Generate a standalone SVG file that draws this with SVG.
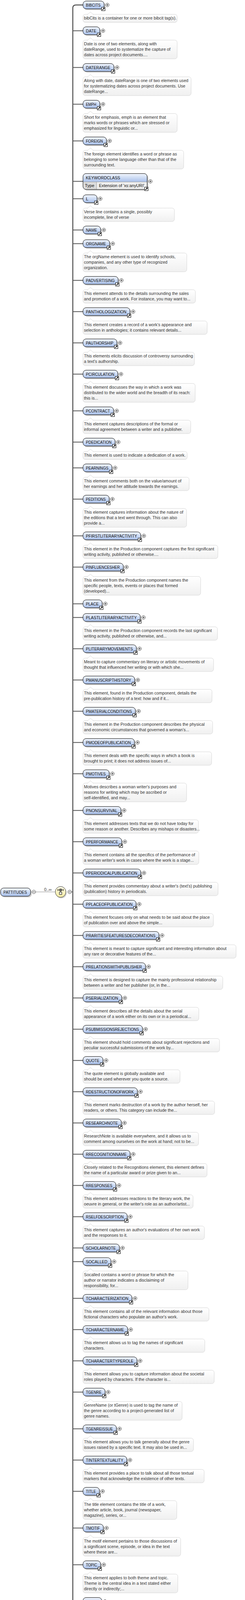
<svg xmlns="http://www.w3.org/2000/svg" xmlns:xlink="http://www.w3.org/1999/xlink" width="626" height="4617" viewBox="0 0 626 4617">
<style>
.nb{fill:url(#gn);stroke:#000;stroke-width:1}
.ns{fill:#a3a3a3;opacity:.55}
.nt{font-family:"Liberation Sans",Arial,sans-serif;font-size:11.5px;fill:#111}
.ab{fill:url(#ga);stroke:#d6d6d6;stroke-width:1}
.at{font-family:"Liberation Sans",Arial,sans-serif;font-size:10.7px;fill:#333}
.br{stroke:#555;stroke-width:2;fill:none}
</style>
<defs>
<linearGradient id="gn" x1="0" y1="0" x2="0" y2="1"><stop offset="0" stop-color="#f2f6fd"/><stop offset="1" stop-color="#a8c0eb"/></linearGradient>
<linearGradient id="ga" x1="0" y1="0" x2="0" y2="1"><stop offset="0" stop-color="#ffffff"/><stop offset="1" stop-color="#f0f0f0"/></linearGradient>
<linearGradient id="gy" x1="0" y1="0" x2="0" y2="1"><stop offset="0" stop-color="#fffde8"/><stop offset="1" stop-color="#f1e9a2"/></linearGradient>
<g id="plus"><circle r="4.5" fill="#fff" stroke="#333" stroke-width="1"/><path d="M-2.5,0H2.5M0,-2.5V2.5" stroke="#000" stroke-width="1"/></g>
<g id="minus"><circle r="4.5" fill="#fff" stroke="#333" stroke-width="1"/><path d="M-2.5,0H2.5" stroke="#000" stroke-width="1"/></g>
<g id="ic"><rect x="0.5" y="0.5" width="9" height="9" fill="#fff" stroke="#000" stroke-width="1"/><path d="M2.5,7.5L6,4" stroke="#000" stroke-width="1.7"/><path d="M4,2H8V6Z" fill="#000"/></g>
<path id="notch" d="M223,1L231,-6L239,1" fill="#fff" stroke="#d6d6d6" stroke-width="1"/>
</defs>
<rect width="626" height="4617" fill="#fff"/>

<g id="connectors">
<path class="br" style="stroke-width:2.6" d="M212,12.7H194Q186,12.7 186,20.7V4547.7Q186,4555.7 194,4555.7H212"/>
<path class="br" d="M186,78.7H212M186,172.7H212M186,266.7H212M186,360.7H212M186,464.3H212M186,508.7H212M186,588.7H212M186,623.7H212M186,717.7H212M186,797.7H212M186,877.7H212M186,957.7H212M186,1051.7H212M186,1131.7H212M186,1197.7H212M186,1277.7H212M186,1371.7H212M186,1451.7H212M186,1545.7H212M186,1580.7H212M186,1660.7H212M186,1740.7H212M186,1820.7H212M186,1900.7H212M186,1980.7H212M186,2074.7H212M186,2154.7H212M186,2234.7H212M186,2314.7H212M186,2394.7H212M186,2474.7H212M186,2554.7H212M186,2634.7H212M186,2714.7H212M186,2794.7H212M186,2874.7H212M186,2954.7H212M186,3034.7H212M186,3114.7H212M186,3194.7H212M186,3229.7H212M186,3323.7H212M186,3403.7H212M186,3483.7H212M186,3563.7H212M186,3657.7H212M186,3737.7H212M186,3817.7H212M186,3911.7H212M186,4005.7H212M186,4099.7H212M186,4193.7H212M186,4273.7H212M186,4367.7H212M186,4461.7H212"/>
<path d="M91,2283.3H141" stroke="#8a8a8a" stroke-width="1"/>
<path d="M182.5,2283.3H186" stroke="#555" stroke-width="1.5"/>
<text class="at" x="122.5" y="2280.5" text-anchor="middle">0..∞</text>
</g>

<g id="node-pattitudes">
<rect class="ns" x="4.5" y="2276.3" width="76.5" height="21" rx="8"/>
<rect class="nb" x="1.5" y="2273.3" width="76.5" height="21" rx="8"/>
<text class="nt" x="8.8" y="2287.5" textLength="60" lengthAdjust="spacingAndGlyphs">PATTITUDES</text>
<use xlink:href="#minus" x="86.4" y="2283.3"/>
</g>

<g id="compositor-sequence" transform="translate(154.8,2283.3)">
<ellipse cx="2" cy="2.5" rx="13.5" ry="14" fill="#aaa" opacity=".55"/>
<ellipse rx="13.5" ry="14" fill="url(#gy)" stroke="#333" stroke-width="1"/>
<path d="M-7,-7.5V-2.5M-7,-5H7M7,-7.5V-2.5M0,-2.5V0.5" stroke="#000" stroke-width="1" fill="none"/>
<rect x="-2.5" y="-7.5" width="5" height="5" fill="#777" stroke="#000" stroke-width="0.8"/>
<rect x="-3" y="0.5" width="6" height="6" fill="#fff" stroke="#000" stroke-width="1"/>
<use xlink:href="#minus" x="23.2" y="0"/>
</g>

<g id="node-bibcits" transform="translate(0,12.7)">
<rect class="ns" x="215" y="-7" width="54" height="20" rx="8"/><rect class="nb" x="212" y="-10" width="54" height="20" rx="8"/>
<text class="nt" x="219.5" y="4" textLength="37.5" lengthAdjust="spacingAndGlyphs">BIBCITS</text>
<use xlink:href="#ic" x="259" y="5.3"/><use xlink:href="#plus" x="274.3" y="0"/>
<rect class="ab" x="212" y="24" width="240.7" height="20.7" rx="6"/><use xlink:href="#notch" y="24"/>
<text class="at" x="214.5" y="37.6">bibCits is a container for one or more bibcit tag(s).</text>
</g>

<g id="node-date" transform="translate(0,78.7)">
<rect class="ns" x="215" y="-7" width="43" height="20" rx="8"/><rect class="nb" x="212" y="-10" width="43" height="20" rx="8"/>
<text class="nt" x="219.5" y="4" textLength="26.5" lengthAdjust="spacingAndGlyphs">DATE</text>
<use xlink:href="#ic" x="248" y="5.3"/><use xlink:href="#plus" x="263.3" y="0"/>
<rect class="ab" x="212" y="24" width="240.7" height="48" rx="6"/><use xlink:href="#notch" y="24"/>
<text class="at" x="214.5" y="37.6"><tspan x="214.5">Date is one of two elements, along with</tspan><tspan x="214.5" dy="14">dateRange, used to systematize the capture of</tspan><tspan x="214.5" dy="14">dates across project documents....</tspan></text>
</g>

<g id="node-daterange" transform="translate(0,172.7)">
<rect class="ns" x="215" y="-7" width="79" height="20" rx="8"/><rect class="nb" x="212" y="-10" width="79" height="20" rx="8"/>
<text class="nt" x="219.5" y="4" textLength="62.5" lengthAdjust="spacingAndGlyphs">DATERANGE</text>
<use xlink:href="#ic" x="284" y="5.3"/><use xlink:href="#plus" x="299.3" y="0"/>
<rect class="ab" x="212" y="24" width="276.3" height="48" rx="6"/><use xlink:href="#notch" y="24"/>
<text class="at" x="214.5" y="37.6"><tspan x="214.5">Along with date, dateRange is one of two elements used</tspan><tspan x="214.5" dy="14">for systematizing dates across project documents. Use</tspan><tspan x="214.5" dy="14">dateRange...</tspan></text>
</g>

<g id="node-emph" transform="translate(0,266.7)">
<rect class="ns" x="215" y="-7" width="43" height="20" rx="8"/><rect class="nb" x="212" y="-10" width="43" height="20" rx="8"/>
<text class="nt" x="219.5" y="4" textLength="26.5" lengthAdjust="spacingAndGlyphs">EMPH</text>
<use xlink:href="#ic" x="248" y="5.3"/><use xlink:href="#plus" x="263.3" y="0"/>
<rect class="ab" x="212" y="24" width="240.7" height="48" rx="6"/><use xlink:href="#notch" y="24"/>
<text class="at" x="214.5" y="37.6"><tspan x="214.5">Short for emphasis, emph is an element that</tspan><tspan x="214.5" dy="14">marks words or phrases which are stressed or</tspan><tspan x="214.5" dy="14">emphasized for linguistic or...</tspan></text>
</g>

<g id="node-foreign" transform="translate(0,360.7)">
<rect class="ns" x="215" y="-7" width="60" height="20" rx="8"/><rect class="nb" x="212" y="-10" width="60" height="20" rx="8"/>
<text class="nt" x="219.5" y="4" textLength="43.5" lengthAdjust="spacingAndGlyphs">FOREIGN</text>
<use xlink:href="#ic" x="265" y="5.3"/><use xlink:href="#plus" x="280.3" y="0"/>
<rect class="ab" x="212" y="24" width="257.3" height="48" rx="6"/><use xlink:href="#notch" y="24"/>
<text class="at" x="214.5" y="37.6"><tspan x="214.5">The foreign element identifies a word or phrase as</tspan><tspan x="214.5" dy="14">belonging to some language other than that of the</tspan><tspan x="214.5" dy="14">surrounding text.</tspan></text>
</g>

<g id="node-keywordclass" transform="translate(0,464.3)">
<rect class="ns" x="215" y="-17" width="164" height="40.7" rx="8"/>
<rect x="212" y="-20" width="164" height="40.7" rx="8" fill="#efefef"/>
<path d="M212,-12a8,8 0 0 1 8,-8H368a8,8 0 0 1 8,8V1.5H212Z" fill="url(#gn)"/>
<path d="M212,1.5H246.7V20.7H220a8,8 0 0 1 -8,-8Z" fill="#dcdcdc"/>
<path d="M212,1.5H376M246.7,1.5V20.7" stroke="#9a9a9a" stroke-width="1"/>
<rect x="212" y="-20" width="164" height="40.7" rx="8" fill="none" stroke="#000" stroke-width="1"/>
<text class="nt" x="219.3" y="-5.3" textLength="87.7" lengthAdjust="spacingAndGlyphs">KEYWORDCLASS</text>
<text class="nt" x="216.7" y="14.7" textLength="24.3" lengthAdjust="spacingAndGlyphs">Type</text>
<text class="nt" x="252.7" y="14.7" textLength="116" lengthAdjust="spacingAndGlyphs">Extension of 'xs:anyURI'</text>
<use xlink:href="#ic" x="369" y="14.3"/><use xlink:href="#plus" x="384.3" y="0"/>
</g>

<g id="node-l" transform="translate(0,508.7)">
<rect class="ns" x="215" y="-7" width="36" height="20" rx="8"/><rect class="nb" x="212" y="-10" width="36" height="20" rx="8"/>
<text class="nt" x="219.5" y="4">L</text>
<use xlink:href="#ic" x="241" y="5.3"/><use xlink:href="#plus" x="256.3" y="0"/>
<rect class="ab" x="212" y="24" width="233.7" height="34.3" rx="6"/><use xlink:href="#notch" y="24"/>
<text class="at" x="214.5" y="37.6"><tspan x="214.5">Verse line contains a single, possibly</tspan><tspan x="214.5" dy="14">incomplete, line of verse</tspan></text>
</g>

<g id="node-name" transform="translate(0,588.7)">
<rect class="ns" x="215" y="-7" width="45" height="20" rx="8"/><rect class="nb" x="212" y="-10" width="45" height="20" rx="8"/>
<text class="nt" x="219.5" y="4" textLength="28.5" lengthAdjust="spacingAndGlyphs">NAME</text>
<use xlink:href="#ic" x="250" y="5.3"/><use xlink:href="#plus" x="265.3" y="0"/>
</g>

<g id="node-orgname" transform="translate(0,623.7)">
<rect class="ns" x="215" y="-7" width="68" height="20" rx="8"/><rect class="nb" x="212" y="-10" width="68" height="20" rx="8"/>
<text class="nt" x="219.5" y="4" textLength="51.5" lengthAdjust="spacingAndGlyphs">ORGNAME</text>
<use xlink:href="#ic" x="273" y="5.3"/><use xlink:href="#plus" x="288.3" y="0"/>
<rect class="ab" x="212" y="24" width="265.3" height="48" rx="6"/><use xlink:href="#notch" y="24"/>
<text class="at" x="214.5" y="37.6"><tspan x="214.5">The orgName element is used to identify schools,</tspan><tspan x="214.5" dy="14">companies, and any other type of recognized</tspan><tspan x="214.5" dy="14">organization.</tspan></text>
</g>

<g id="node-padvertising" transform="translate(0,717.7)">
<rect class="ns" x="215" y="-7" width="90" height="20" rx="8"/><rect class="nb" x="212" y="-10" width="90" height="20" rx="8"/>
<text class="nt" x="219.5" y="4" textLength="73.5" lengthAdjust="spacingAndGlyphs">PADVERTISING</text>
<use xlink:href="#ic" x="295" y="5.3"/><use xlink:href="#plus" x="310.3" y="0"/>
<rect class="ab" x="212" y="24" width="287.3" height="34.3" rx="6"/><use xlink:href="#notch" y="24"/>
<text class="at" x="214.5" y="37.6"><tspan x="214.5">This element attends to the details surrounding the sales</tspan><tspan x="214.5" dy="14">and promotion of a work. For instance, you may want to...</tspan></text>
</g>

<g id="node-panthologization" transform="translate(0,797.7)">
<rect class="ns" x="215" y="-7" width="120" height="20" rx="8"/><rect class="nb" x="212" y="-10" width="120" height="20" rx="8"/>
<text class="nt" x="219.5" y="4" textLength="103.5" lengthAdjust="spacingAndGlyphs">PANTHOLOGIZATION</text>
<use xlink:href="#ic" x="325" y="5.3"/><use xlink:href="#plus" x="340.3" y="0"/>
<rect class="ab" x="212" y="24" width="317.3" height="34.3" rx="6"/><use xlink:href="#notch" y="24"/>
<text class="at" x="214.5" y="37.6"><tspan x="214.5">This element creates a record of a work's appearance and</tspan><tspan x="214.5" dy="14">selection in anthologies; it contains relevant details...</tspan></text>
</g>

<g id="node-pauthorship" transform="translate(0,877.7)">
<rect class="ns" x="215" y="-7" width="86.7" height="20" rx="8"/><rect class="nb" x="212" y="-10" width="86.7" height="20" rx="8"/>
<text class="nt" x="219.5" y="4" textLength="70.2" lengthAdjust="spacingAndGlyphs">PAUTHORSHIP</text>
<use xlink:href="#ic" x="291.7" y="5.3"/><use xlink:href="#plus" x="307" y="0"/>
<rect class="ab" x="212" y="24" width="284.7" height="34.3" rx="6"/><use xlink:href="#notch" y="24"/>
<text class="at" x="214.5" y="37.6"><tspan x="214.5">This elements elicits discussion of controversy surrounding</tspan><tspan x="214.5" dy="14">a text's authorship.</tspan></text>
</g>

<g id="node-pcirculation" transform="translate(0,957.7)">
<rect class="ns" x="215" y="-7" width="89" height="20" rx="8"/><rect class="nb" x="212" y="-10" width="89" height="20" rx="8"/>
<text class="nt" x="219.5" y="4" textLength="72.5" lengthAdjust="spacingAndGlyphs">PCIRCULATION</text>
<use xlink:href="#ic" x="294" y="5.3"/><use xlink:href="#plus" x="309.3" y="0"/>
<rect class="ab" x="212" y="24" width="286.7" height="48" rx="6"/><use xlink:href="#notch" y="24"/>
<text class="at" x="214.5" y="37.6"><tspan x="214.5">This element discusses the way in which a work was</tspan><tspan x="214.5" dy="14">distributed to the wider world and the breadth of its reach:</tspan><tspan x="214.5" dy="14">this is...</tspan></text>
</g>

<g id="node-pcontract" transform="translate(0,1051.7)">
<rect class="ns" x="215" y="-7" width="78" height="20" rx="8"/><rect class="nb" x="212" y="-10" width="78" height="20" rx="8"/>
<text class="nt" x="219.5" y="4" textLength="61.5" lengthAdjust="spacingAndGlyphs">PCONTRACT</text>
<use xlink:href="#ic" x="283" y="5.3"/><use xlink:href="#plus" x="298.3" y="0"/>
<rect class="ab" x="212" y="24" width="275.3" height="34.3" rx="6"/><use xlink:href="#notch" y="24"/>
<text class="at" x="214.5" y="37.6"><tspan x="214.5">This element captures descriptions of the formal or</tspan><tspan x="214.5" dy="14">informal agreement between a writer and a publisher.</tspan></text>
</g>

<g id="node-pdedication" transform="translate(0,1131.7)">
<rect class="ns" x="215" y="-7" width="82" height="20" rx="8"/><rect class="nb" x="212" y="-10" width="82" height="20" rx="8"/>
<text class="nt" x="219.5" y="4" textLength="65.5" lengthAdjust="spacingAndGlyphs">PDEDICATION</text>
<use xlink:href="#ic" x="287" y="5.3"/><use xlink:href="#plus" x="302.3" y="0"/>
<rect class="ab" x="212" y="24" width="266.3" height="20.7" rx="6"/><use xlink:href="#notch" y="24"/>
<text class="at" x="214.5" y="37.6">This element is used to indicate a dedication of a work.</text>
</g>

<g id="node-pearnings" transform="translate(0,1197.7)">
<rect class="ns" x="215" y="-7" width="74" height="20" rx="8"/><rect class="nb" x="212" y="-10" width="74" height="20" rx="8"/>
<text class="nt" x="219.5" y="4" textLength="57.5" lengthAdjust="spacingAndGlyphs">PEARNINGS</text>
<use xlink:href="#ic" x="279" y="5.3"/><use xlink:href="#plus" x="294.3" y="0"/>
<rect class="ab" x="212" y="24" width="271.3" height="34.3" rx="6"/><use xlink:href="#notch" y="24"/>
<text class="at" x="214.5" y="37.6"><tspan x="214.5">This element comments both on the value/amount of</tspan><tspan x="214.5" dy="14">her earnings and her attitude towards the earnings.</tspan></text>
</g>

<g id="node-peditions" transform="translate(0,1277.7)">
<rect class="ns" x="215" y="-7" width="67" height="20" rx="8"/><rect class="nb" x="212" y="-10" width="67" height="20" rx="8"/>
<text class="nt" x="219.5" y="4" textLength="50.5" lengthAdjust="spacingAndGlyphs">PEDITIONS</text>
<use xlink:href="#ic" x="272" y="5.3"/><use xlink:href="#plus" x="287.3" y="0"/>
<rect class="ab" x="212" y="24" width="264.7" height="48" rx="6"/><use xlink:href="#notch" y="24"/>
<text class="at" x="214.5" y="37.6"><tspan x="214.5">This element captures information about the nature of</tspan><tspan x="214.5" dy="14">the editions that a text went through. This can also</tspan><tspan x="214.5" dy="14">provide a...</tspan></text>
</g>

<g id="node-pfirstliteraryactivity" transform="translate(0,1371.7)">
<rect class="ns" x="215" y="-7" width="147.4" height="20" rx="8"/><rect class="nb" x="212" y="-10" width="147.4" height="20" rx="8"/>
<text class="nt" x="219.5" y="4" textLength="130.9" lengthAdjust="spacingAndGlyphs">PFIRSTLITERARYACTIVITY</text>
<use xlink:href="#ic" x="352.4" y="5.3"/><use xlink:href="#plus" x="367.7" y="0"/>
<rect class="ab" x="212" y="24" width="344.7" height="34.3" rx="6"/><use xlink:href="#notch" y="24"/>
<text class="at" x="214.5" y="37.6"><tspan x="214.5">This element in the Production component captures the first significant</tspan><tspan x="214.5" dy="14">writing activity, published or otherwise....</tspan></text>
</g>

<g id="node-pinfluencesher" transform="translate(0,1451.7)">
<rect class="ns" x="215" y="-7" width="103" height="20" rx="8"/><rect class="nb" x="212" y="-10" width="103" height="20" rx="8"/>
<text class="nt" x="219.5" y="4" textLength="86.5" lengthAdjust="spacingAndGlyphs">PINFLUENCESHER</text>
<use xlink:href="#ic" x="308" y="5.3"/><use xlink:href="#plus" x="323.3" y="0"/>
<rect class="ab" x="212" y="24" width="300.7" height="48" rx="6"/><use xlink:href="#notch" y="24"/>
<text class="at" x="214.5" y="37.6"><tspan x="214.5">This element from the Production component names the</tspan><tspan x="214.5" dy="14">specific people, texts, events or places that formed</tspan><tspan x="214.5" dy="14">(developed)...</tspan></text>
</g>

<g id="node-place" transform="translate(0,1545.7)">
<rect class="ns" x="215" y="-7" width="49" height="20" rx="8"/><rect class="nb" x="212" y="-10" width="49" height="20" rx="8"/>
<text class="nt" x="219.5" y="4" textLength="32.5" lengthAdjust="spacingAndGlyphs">PLACE</text>
<use xlink:href="#ic" x="254" y="5.3"/><use xlink:href="#plus" x="269.3" y="0"/>
</g>

<g id="node-plastliteraryactivity" transform="translate(0,1580.7)">
<rect class="ns" x="215" y="-7" width="146.4" height="20" rx="8"/><rect class="nb" x="212" y="-10" width="146.4" height="20" rx="8"/>
<text class="nt" x="219.5" y="4" textLength="129.9" lengthAdjust="spacingAndGlyphs">PLASTLITERARYACTIVITY</text>
<use xlink:href="#ic" x="351.4" y="5.3"/><use xlink:href="#plus" x="366.7" y="0"/>
<rect class="ab" x="212" y="24" width="343.7" height="34.3" rx="6"/><use xlink:href="#notch" y="24"/>
<text class="at" x="214.5" y="37.6"><tspan x="214.5">This element in the Production component records the last significant</tspan><tspan x="214.5" dy="14">writing activity, published or otherwise, and...</tspan></text>
</g>

<g id="node-pliterarymovements" transform="translate(0,1660.7)">
<rect class="ns" x="215" y="-7" width="136.4" height="20" rx="8"/><rect class="nb" x="212" y="-10" width="136.4" height="20" rx="8"/>
<text class="nt" x="219.5" y="4" textLength="119.9" lengthAdjust="spacingAndGlyphs">PLITERARYMOVEMENTS</text>
<use xlink:href="#ic" x="341.4" y="5.3"/><use xlink:href="#plus" x="356.7" y="0"/>
<rect class="ab" x="212" y="24" width="333.7" height="34.3" rx="6"/><use xlink:href="#notch" y="24"/>
<text class="at" x="214.5" y="37.6"><tspan x="214.5">Meant to capture commentary on literary or artistic movements of</tspan><tspan x="214.5" dy="14">thought that influenced her writing or with which she...</tspan></text>
</g>

<g id="node-pmanuscripthistory" transform="translate(0,1740.7)">
<rect class="ns" x="215" y="-7" width="132" height="20" rx="8"/><rect class="nb" x="212" y="-10" width="132" height="20" rx="8"/>
<text class="nt" x="219.5" y="4" textLength="115.5" lengthAdjust="spacingAndGlyphs">PMANUSCRIPTHISTORY</text>
<use xlink:href="#ic" x="337" y="5.3"/><use xlink:href="#plus" x="352.3" y="0"/>
<rect class="ab" x="212" y="24" width="329.7" height="34.3" rx="6"/><use xlink:href="#notch" y="24"/>
<text class="at" x="214.5" y="37.6"><tspan x="214.5">This element, found in the Production component, details the</tspan><tspan x="214.5" dy="14">pre-publication history of a text: how and if it...</tspan></text>
</g>

<g id="node-pmaterialconditions" transform="translate(0,1820.7)">
<rect class="ns" x="215" y="-7" width="134" height="20" rx="8"/><rect class="nb" x="212" y="-10" width="134" height="20" rx="8"/>
<text class="nt" x="219.5" y="4" textLength="117.5" lengthAdjust="spacingAndGlyphs">PMATERIALCONDITIONS</text>
<use xlink:href="#ic" x="339" y="5.3"/><use xlink:href="#plus" x="354.3" y="0"/>
<rect class="ab" x="212" y="24" width="331.3" height="34.3" rx="6"/><use xlink:href="#notch" y="24"/>
<text class="at" x="214.5" y="37.6"><tspan x="214.5">This element in the Production component describes the physical</tspan><tspan x="214.5" dy="14">and economic circumstances that governed a woman's...</tspan></text>
</g>

<g id="node-pmodeofpublication" transform="translate(0,1900.7)">
<rect class="ns" x="215" y="-7" width="131.4" height="20" rx="8"/><rect class="nb" x="212" y="-10" width="131.4" height="20" rx="8"/>
<text class="nt" x="219.5" y="4" textLength="114.9" lengthAdjust="spacingAndGlyphs">PMODEOFPUBLICATION</text>
<use xlink:href="#ic" x="336.4" y="5.3"/><use xlink:href="#plus" x="351.7" y="0"/>
<rect class="ab" x="212" y="24" width="328.7" height="34.3" rx="6"/><use xlink:href="#notch" y="24"/>
<text class="at" x="214.5" y="37.6"><tspan x="214.5">This element deals with the specific ways in which a book is</tspan><tspan x="214.5" dy="14">brought to print; it does not address issues of...</tspan></text>
</g>

<g id="node-pmotives" transform="translate(0,1980.7)">
<rect class="ns" x="215" y="-7" width="67" height="20" rx="8"/><rect class="nb" x="212" y="-10" width="67" height="20" rx="8"/>
<text class="nt" x="219.5" y="4" textLength="50.5" lengthAdjust="spacingAndGlyphs">PMOTIVES</text>
<use xlink:href="#ic" x="272" y="5.3"/><use xlink:href="#plus" x="287.3" y="0"/>
<rect class="ab" x="212" y="24" width="264.7" height="48" rx="6"/><use xlink:href="#notch" y="24"/>
<text class="at" x="214.5" y="37.6"><tspan x="214.5">Motives describes a woman writer's purposes and</tspan><tspan x="214.5" dy="14">reasons for writing which may be ascribed or</tspan><tspan x="214.5" dy="14">self-identified, and may...</tspan></text>
</g>

<g id="node-pnonsurvival" transform="translate(0,2074.7)">
<rect class="ns" x="215" y="-7" width="97" height="20" rx="8"/><rect class="nb" x="212" y="-10" width="97" height="20" rx="8"/>
<text class="nt" x="219.5" y="4" textLength="80.5" lengthAdjust="spacingAndGlyphs">PNONSURVIVAL</text>
<use xlink:href="#ic" x="302" y="5.3"/><use xlink:href="#plus" x="317.3" y="0"/>
<rect class="ab" x="212" y="24" width="295.2" height="34.3" rx="6"/><use xlink:href="#notch" y="24"/>
<text class="at" x="214.5" y="37.6"><tspan x="214.5">This element addresses texts that we do not have today for</tspan><tspan x="214.5" dy="14">some reason or another. Describes any mishaps or disasters...</tspan></text>
</g>

<g id="node-pperformance" transform="translate(0,2154.7)">
<rect class="ns" x="215" y="-7" width="98.9" height="20" rx="8"/><rect class="nb" x="212" y="-10" width="98.9" height="20" rx="8"/>
<text class="nt" x="219.5" y="4" textLength="82.4" lengthAdjust="spacingAndGlyphs">PPERFORMANCE</text>
<use xlink:href="#ic" x="303.9" y="5.3"/><use xlink:href="#plus" x="319.2" y="0"/>
<rect class="ab" x="212" y="24" width="296" height="34.3" rx="6"/><use xlink:href="#notch" y="24"/>
<text class="at" x="214.5" y="37.6"><tspan x="214.5">This element contains all the specifics of the performance of</tspan><tspan x="214.5" dy="14">a woman writer's work in cases where the work is a stage...</tspan></text>
</g>

<g id="node-pperiodicalpublication" transform="translate(0,2234.7)">
<rect class="ns" x="215" y="-7" width="147.7" height="20" rx="8"/><rect class="nb" x="212" y="-10" width="147.7" height="20" rx="8"/>
<text class="nt" x="219.5" y="4" textLength="131.2" lengthAdjust="spacingAndGlyphs">PPERIODICALPUBLICATION</text>
<use xlink:href="#ic" x="352.7" y="5.3"/><use xlink:href="#plus" x="368" y="0"/>
<rect class="ab" x="212" y="24" width="345.2" height="34.3" rx="6"/><use xlink:href="#notch" y="24"/>
<text class="at" x="214.5" y="37.6"><tspan x="214.5">This element provides commentary about a writer's (text's) publishing</tspan><tspan x="214.5" dy="14">(publication) history in periodicals.</tspan></text>
</g>

<g id="node-pplaceofpublication" transform="translate(0,2314.7)">
<rect class="ns" x="215" y="-7" width="135.7" height="20" rx="8"/><rect class="nb" x="212" y="-10" width="135.7" height="20" rx="8"/>
<text class="nt" x="219.5" y="4" textLength="119.2" lengthAdjust="spacingAndGlyphs">PPLACEOFPUBLICATION</text>
<use xlink:href="#ic" x="340.7" y="5.3"/><use xlink:href="#plus" x="356" y="0"/>
<rect class="ab" x="212" y="24" width="333.2" height="34.3" rx="6"/><use xlink:href="#notch" y="24"/>
<text class="at" x="214.5" y="37.6"><tspan x="214.5">This element focuses only on what needs to be said about the place</tspan><tspan x="214.5" dy="14">of publication over and above the simple...</tspan></text>
</g>

<g id="node-prarities" transform="translate(0,2394.7)">
<rect class="ns" x="215" y="-7" width="194.1" height="20" rx="8"/><rect class="nb" x="212" y="-10" width="194.1" height="20" rx="8"/>
<text class="nt" x="219.5" y="4" textLength="177.6" lengthAdjust="spacingAndGlyphs">PRARITIESFEATURESDECORATIONS</text>
<use xlink:href="#ic" x="399.1" y="5.3"/><use xlink:href="#plus" x="414.4" y="0"/>
<rect class="ab" x="212" y="24" width="391.2" height="34.3" rx="6"/><use xlink:href="#notch" y="24"/>
<text class="at" x="214.5" y="37.6"><tspan x="214.5">This element is meant to capture significant and interesting information about</tspan><tspan x="214.5" dy="14">any rare or decorative features of the...</tspan></text>
</g>

<g id="node-prelationswithpublisher" transform="translate(0,2474.7)">
<rect class="ns" x="215" y="-7" width="159.7" height="20" rx="8"/><rect class="nb" x="212" y="-10" width="159.7" height="20" rx="8"/>
<text class="nt" x="219.5" y="4" textLength="143.2" lengthAdjust="spacingAndGlyphs">PRELATIONSWITHPUBLISHER</text>
<use xlink:href="#ic" x="364.7" y="5.3"/><use xlink:href="#plus" x="380" y="0"/>
<rect class="ab" x="212" y="24" width="357.2" height="34.3" rx="6"/><use xlink:href="#notch" y="24"/>
<text class="at" x="214.5" y="37.6"><tspan x="214.5">This element is designed to capture the mainly professional relationship</tspan><tspan x="214.5" dy="14">between a writer and her publisher (or, in the...</tspan></text>
</g>

<g id="node-pserialization" transform="translate(0,2554.7)">
<rect class="ns" x="215" y="-7" width="98.9" height="20" rx="8"/><rect class="nb" x="212" y="-10" width="98.9" height="20" rx="8"/>
<text class="nt" x="219.5" y="4" textLength="82.4" lengthAdjust="spacingAndGlyphs">PSERIALIZATION</text>
<use xlink:href="#ic" x="303.9" y="5.3"/><use xlink:href="#plus" x="319.2" y="0"/>
<rect class="ab" x="212" y="24" width="296" height="34.3" rx="6"/><use xlink:href="#notch" y="24"/>
<text class="at" x="214.5" y="37.6"><tspan x="214.5">This element describes all the details about the serial</tspan><tspan x="214.5" dy="14">appearance of a work either on its own or in a periodical...</tspan></text>
</g>

<g id="node-psubmissionsrejections" transform="translate(0,2634.7)">
<rect class="ns" x="215" y="-7" width="152" height="20" rx="8"/><rect class="nb" x="212" y="-10" width="152" height="20" rx="8"/>
<text class="nt" x="219.5" y="4" textLength="135.5" lengthAdjust="spacingAndGlyphs">PSUBMISSIONSREJECTIONS</text>
<use xlink:href="#ic" x="357" y="5.3"/><use xlink:href="#plus" x="372.3" y="0"/>
<rect class="ab" x="212" y="24" width="349" height="34.3" rx="6"/><use xlink:href="#notch" y="24"/>
<text class="at" x="214.5" y="37.6"><tspan x="214.5">This element should hold comments about significant rejections and</tspan><tspan x="214.5" dy="14">peculiar successful submissions of the work by...</tspan></text>
</g>

<g id="node-quote" transform="translate(0,2714.7)">
<rect class="ns" x="215" y="-7" width="51" height="20" rx="8"/><rect class="nb" x="212" y="-10" width="51" height="20" rx="8"/>
<text class="nt" x="219.5" y="4" textLength="34.5" lengthAdjust="spacingAndGlyphs">QUOTE</text>
<use xlink:href="#ic" x="256" y="5.3"/><use xlink:href="#plus" x="271.3" y="0"/>
<rect class="ab" x="212" y="24" width="248" height="34.3" rx="6"/><use xlink:href="#notch" y="24"/>
<text class="at" x="214.5" y="37.6"><tspan x="214.5">The quote element is globally available and</tspan><tspan x="214.5" dy="14">should be used wherever you quote a source.</tspan></text>
</g>

<g id="node-rdestructionofwork" transform="translate(0,2794.7)">
<rect class="ns" x="215" y="-7" width="139" height="20" rx="8"/><rect class="nb" x="212" y="-10" width="139" height="20" rx="8"/>
<text class="nt" x="219.5" y="4" textLength="122.5" lengthAdjust="spacingAndGlyphs">RDESTRUCTIONOFWORK</text>
<use xlink:href="#ic" x="344" y="5.3"/><use xlink:href="#plus" x="359.3" y="0"/>
<rect class="ab" x="212" y="24" width="336.3" height="34.3" rx="6"/><use xlink:href="#notch" y="24"/>
<text class="at" x="214.5" y="37.6"><tspan x="214.5">This element marks destruction of a work by the author herself, her</tspan><tspan x="214.5" dy="14">readers, or others. This category can include the...</tspan></text>
</g>

<g id="node-researchnote" transform="translate(0,2874.7)">
<rect class="ns" x="215" y="-7" width="98" height="20" rx="8"/><rect class="nb" x="212" y="-10" width="98" height="20" rx="8"/>
<text class="nt" x="219.5" y="4" textLength="81.5" lengthAdjust="spacingAndGlyphs">RESEARCHNOTE</text>
<use xlink:href="#ic" x="303" y="5.3"/><use xlink:href="#plus" x="318.3" y="0"/>
<rect class="ab" x="212" y="24" width="295.3" height="34.3" rx="6"/><use xlink:href="#notch" y="24"/>
<text class="at" x="214.5" y="37.6"><tspan x="214.5">ResearchNote is available everywhere, and it allows us to</tspan><tspan x="214.5" dy="14">comment among ourselves on the work at hand; not to be...</tspan></text>
</g>

<g id="node-rrecognitionname" transform="translate(0,2954.7)">
<rect class="ns" x="215" y="-7" width="120.4" height="20" rx="8"/><rect class="nb" x="212" y="-10" width="120.4" height="20" rx="8"/>
<text class="nt" x="219.5" y="4" textLength="103.9" lengthAdjust="spacingAndGlyphs">RRECOGNITIONNAME</text>
<use xlink:href="#ic" x="325.4" y="5.3"/><use xlink:href="#plus" x="340.7" y="0"/>
<rect class="ab" x="212" y="24" width="317" height="34.3" rx="6"/><use xlink:href="#notch" y="24"/>
<text class="at" x="214.5" y="37.6"><tspan x="214.5">Closely related to the Recognitions element, this element defines</tspan><tspan x="214.5" dy="14">the name of a particular award or prize given to an...</tspan></text>
</g>

<g id="node-rresponses" transform="translate(0,3034.7)">
<rect class="ns" x="215" y="-7" width="84" height="20" rx="8"/><rect class="nb" x="212" y="-10" width="84" height="20" rx="8"/>
<text class="nt" x="219.5" y="4" textLength="67.5" lengthAdjust="spacingAndGlyphs">RRESPONSES</text>
<use xlink:href="#ic" x="289" y="5.3"/><use xlink:href="#plus" x="304.3" y="0"/>
<rect class="ab" x="212" y="24" width="281.3" height="34.3" rx="6"/><use xlink:href="#notch" y="24"/>
<text class="at" x="214.5" y="37.6"><tspan x="214.5">This element addresses reactions to the literary work, the</tspan><tspan x="214.5" dy="14">oeuvre in general, or the writer's role as an author/artist...</tspan></text>
</g>

<g id="node-rselfdescription" transform="translate(0,3114.7)">
<rect class="ns" x="215" y="-7" width="113" height="20" rx="8"/><rect class="nb" x="212" y="-10" width="113" height="20" rx="8"/>
<text class="nt" x="219.5" y="4" textLength="96.5" lengthAdjust="spacingAndGlyphs">RSELFDESCRIPTION</text>
<use xlink:href="#ic" x="318" y="5.3"/><use xlink:href="#plus" x="333.3" y="0"/>
<rect class="ab" x="212" y="24" width="310.3" height="34.3" rx="6"/><use xlink:href="#notch" y="24"/>
<text class="at" x="214.5" y="37.6"><tspan x="214.5">This element captures an author's evaluations of her own work</tspan><tspan x="214.5" dy="14">and the responses to it.</tspan></text>
</g>

<g id="node-scholarnote" transform="translate(0,3194.7)">
<rect class="ns" x="215" y="-7" width="93" height="20" rx="8"/><rect class="nb" x="212" y="-10" width="93" height="20" rx="8"/>
<text class="nt" x="219.5" y="4" textLength="76.5" lengthAdjust="spacingAndGlyphs">SCHOLARNOTE</text>
<use xlink:href="#ic" x="298" y="5.3"/><use xlink:href="#plus" x="313.3" y="0"/>
</g>

<g id="node-socalled" transform="translate(0,3229.7)">
<rect class="ns" x="215" y="-7" width="71.4" height="20" rx="8"/><rect class="nb" x="212" y="-10" width="71.4" height="20" rx="8"/>
<text class="nt" x="219.5" y="4" textLength="54.9" lengthAdjust="spacingAndGlyphs">SOCALLED</text>
<use xlink:href="#ic" x="276.4" y="5.3"/><use xlink:href="#plus" x="291.7" y="0"/>
<rect class="ab" x="212" y="24" width="268.3" height="48" rx="6"/><use xlink:href="#notch" y="24"/>
<text class="at" x="214.5" y="37.6"><tspan x="214.5">Socalled contains a word or phrase for which the</tspan><tspan x="214.5" dy="14">author or narrator indicates a disclaiming of</tspan><tspan x="214.5" dy="14">responsibility, for...</tspan></text>
</g>

<g id="node-tcharacterization" transform="translate(0,3323.7)">
<rect class="ns" x="215" y="-7" width="125" height="20" rx="8"/><rect class="nb" x="212" y="-10" width="125" height="20" rx="8"/>
<text class="nt" x="219.5" y="4" textLength="108.5" lengthAdjust="spacingAndGlyphs">TCHARACTERIZATION</text>
<use xlink:href="#ic" x="330" y="5.3"/><use xlink:href="#plus" x="345.3" y="0"/>
<rect class="ab" x="212" y="24" width="322" height="34.3" rx="6"/><use xlink:href="#notch" y="24"/>
<text class="at" x="214.5" y="37.6"><tspan x="214.5">This element contains all of the relevant information about those</tspan><tspan x="214.5" dy="14">fictional characters who populate an author's work.</tspan></text>
</g>

<g id="node-tcharactername" transform="translate(0,3403.7)">
<rect class="ns" x="215" y="-7" width="114" height="20" rx="8"/><rect class="nb" x="212" y="-10" width="114" height="20" rx="8"/>
<text class="nt" x="219.5" y="4" textLength="97.5" lengthAdjust="spacingAndGlyphs">TCHARACTERNAME</text>
<use xlink:href="#ic" x="319" y="5.3"/><use xlink:href="#plus" x="334.3" y="0"/>
<rect class="ab" x="212" y="24" width="311.3" height="34.3" rx="6"/><use xlink:href="#notch" y="24"/>
<text class="at" x="214.5" y="37.6"><tspan x="214.5">This element allows us to tag the names of significant</tspan><tspan x="214.5" dy="14">characters.</tspan></text>
</g>

<g id="node-tcharactertyperole" transform="translate(0,3483.7)">
<rect class="ns" x="215" y="-7" width="138" height="20" rx="8"/><rect class="nb" x="212" y="-10" width="138" height="20" rx="8"/>
<text class="nt" x="219.5" y="4" textLength="121.5" lengthAdjust="spacingAndGlyphs">TCHARACTERTYPEROLE</text>
<use xlink:href="#ic" x="343" y="5.3"/><use xlink:href="#plus" x="358.3" y="0"/>
<rect class="ab" x="212" y="24" width="335.3" height="34.3" rx="6"/><use xlink:href="#notch" y="24"/>
<text class="at" x="214.5" y="37.6"><tspan x="214.5">This element allows you to capture information about the societal</tspan><tspan x="214.5" dy="14">roles played by characters. If the character is...</tspan></text>
</g>

<g id="node-tgenre" transform="translate(0,3563.7)">
<rect class="ns" x="215" y="-7" width="56.4" height="20" rx="8"/><rect class="nb" x="212" y="-10" width="56.4" height="20" rx="8"/>
<text class="nt" x="219.5" y="4" textLength="39.9" lengthAdjust="spacingAndGlyphs">TGENRE</text>
<use xlink:href="#ic" x="261.4" y="5.3"/><use xlink:href="#plus" x="276.7" y="0"/>
<rect class="ab" x="212" y="24" width="253.3" height="48" rx="6"/><use xlink:href="#notch" y="24"/>
<text class="at" x="214.5" y="37.6"><tspan x="214.5">GenreName (or tGenre) is used to tag the name of</tspan><tspan x="214.5" dy="14">the genre according to a project-generated list of</tspan><tspan x="214.5" dy="14">genre names.</tspan></text>
</g>

<g id="node-tgenreissue" transform="translate(0,3657.7)">
<rect class="ns" x="215" y="-7" width="85.4" height="20" rx="8"/><rect class="nb" x="212" y="-10" width="85.4" height="20" rx="8"/>
<text class="nt" x="219.5" y="4" textLength="68.9" lengthAdjust="spacingAndGlyphs">TGENREISSUE</text>
<use xlink:href="#ic" x="290.4" y="5.3"/><use xlink:href="#plus" x="305.7" y="0"/>
<rect class="ab" x="212" y="24" width="282.3" height="34.3" rx="6"/><use xlink:href="#notch" y="24"/>
<text class="at" x="214.5" y="37.6"><tspan x="214.5">This element allows you to talk generally about the genre</tspan><tspan x="214.5" dy="14">issues raised by a specific text. It may also be used in...</tspan></text>
</g>

<g id="node-tintertextuality" transform="translate(0,3737.7)">
<rect class="ns" x="215" y="-7" width="112" height="20" rx="8"/><rect class="nb" x="212" y="-10" width="112" height="20" rx="8"/>
<text class="nt" x="219.5" y="4" textLength="95.5" lengthAdjust="spacingAndGlyphs">TINTERTEXTUALITY</text>
<use xlink:href="#ic" x="317" y="5.3"/><use xlink:href="#plus" x="332.3" y="0"/>
<rect class="ab" x="212" y="24" width="309.7" height="34.3" rx="6"/><use xlink:href="#notch" y="24"/>
<text class="at" x="214.5" y="37.6"><tspan x="214.5">This element provides a place to talk about all those textual</tspan><tspan x="214.5" dy="14">markers that acknowledge the existence of other texts.</tspan></text>
</g>

<g id="node-title" transform="translate(0,3817.7)">
<rect class="ns" x="215" y="-7" width="42" height="20" rx="8"/><rect class="nb" x="212" y="-10" width="42" height="20" rx="8"/>
<text class="nt" x="219.5" y="4" textLength="25.5" lengthAdjust="spacingAndGlyphs">TITLE</text>
<use xlink:href="#ic" x="247" y="5.3"/><use xlink:href="#plus" x="262.3" y="0"/>
<rect class="ab" x="212" y="24" width="239.7" height="48" rx="6"/><use xlink:href="#notch" y="24"/>
<text class="at" x="214.5" y="37.6"><tspan x="214.5">The title element contains the title of a work,</tspan><tspan x="214.5" dy="14">whether article, book, journal (newspaper,</tspan><tspan x="214.5" dy="14">magazine), series, or...</tspan></text>
</g>

<g id="node-tmotif" transform="translate(0,3911.7)">
<rect class="ns" x="215" y="-7" width="52" height="20" rx="8"/><rect class="nb" x="212" y="-10" width="52" height="20" rx="8"/>
<text class="nt" x="219.5" y="4" textLength="35.5" lengthAdjust="spacingAndGlyphs">TMOTIF</text>
<use xlink:href="#ic" x="257" y="5.3"/><use xlink:href="#plus" x="272.3" y="0"/>
<rect class="ab" x="212" y="24" width="249.7" height="48" rx="6"/><use xlink:href="#notch" y="24"/>
<text class="at" x="214.5" y="37.6"><tspan x="214.5">The motif element pertains to those discussions of</tspan><tspan x="214.5" dy="14">a significant scene, episode, or idea in the text</tspan><tspan x="214.5" dy="14">where these are...</tspan></text>
</g>

<g id="node-topic" transform="translate(0,4005.7)">
<rect class="ns" x="215" y="-7" width="45" height="20" rx="8"/><rect class="nb" x="212" y="-10" width="45" height="20" rx="8"/>
<text class="nt" x="219.5" y="4" textLength="28.5" lengthAdjust="spacingAndGlyphs">TOPIC</text>
<use xlink:href="#ic" x="250" y="5.3"/><use xlink:href="#plus" x="265.3" y="0"/>
<rect class="ab" x="212" y="24" width="242.3" height="48" rx="6"/><use xlink:href="#notch" y="24"/>
<text class="at" x="214.5" y="37.6"><tspan x="214.5">This element applies to both theme and topic.</tspan><tspan x="214.5" dy="14">Theme is the central idea in a text stated either</tspan><tspan x="214.5" dy="14">directly or indirectly;...</tspan></text>
</g>

<g id="node-tplot" transform="translate(0,4099.7)">
<rect class="ns" x="215" y="-7" width="48" height="20" rx="8"/><rect class="nb" x="212" y="-10" width="48" height="20" rx="8"/>
<text class="nt" x="219.5" y="4" textLength="31.5" lengthAdjust="spacingAndGlyphs">TPLOT</text>
<use xlink:href="#ic" x="253" y="5.3"/><use xlink:href="#plus" x="268.3" y="0"/>
<rect class="ab" x="212" y="24" width="245.3" height="48" rx="6"/><use xlink:href="#notch" y="24"/>
<text class="at" x="214.5" y="37.6"><tspan x="214.5">The plot element should address overview</tspan><tspan x="214.5" dy="14">summaries of narrative actions. Plot is described</tspan><tspan x="214.5" dy="14">as "the plan, design,...</tspan></text>
</g>

<g id="node-tsettingplace" transform="translate(0,4193.7)">
<rect class="ns" x="215" y="-7" width="97" height="20" rx="8"/><rect class="nb" x="212" y="-10" width="97" height="20" rx="8"/>
<text class="nt" x="219.5" y="4" textLength="80.5" lengthAdjust="spacingAndGlyphs">TSETTINGPLACE</text>
<use xlink:href="#ic" x="302" y="5.3"/><use xlink:href="#plus" x="317.3" y="0"/>
<rect class="ab" x="212" y="24" width="294" height="34.3" rx="6"/><use xlink:href="#notch" y="24"/>
<text class="at" x="214.5" y="37.6"><tspan x="214.5">This element addresses the real or fictive place in which a</tspan><tspan x="214.5" dy="14">text is set.</tspan></text>
</g>

<g id="node-ttechniques" transform="translate(0,4273.7)">
<rect class="ns" x="215" y="-7" width="85" height="20" rx="8"/><rect class="nb" x="212" y="-10" width="85" height="20" rx="8"/>
<text class="nt" x="219.5" y="4" textLength="68.5" lengthAdjust="spacingAndGlyphs">TTECHNIQUES</text>
<use xlink:href="#ic" x="290" y="5.3"/><use xlink:href="#plus" x="305.3" y="0"/>
<rect class="ab" x="212" y="24" width="282.3" height="48" rx="6"/><use xlink:href="#notch" y="24"/>
<text class="at" x="214.5" y="37.6"><tspan x="214.5">This element applies to the structural components of</tspan><tspan x="214.5" dy="14">language used to create literary effects: these are devices</tspan><tspan x="214.5" dy="14">such...</tspan></text>
</g>

<g id="node-tthemetopic" transform="translate(0,4367.7)">
<rect class="ns" x="215" y="-7" width="84" height="20" rx="8"/><rect class="nb" x="212" y="-10" width="84" height="20" rx="8"/>
<text class="nt" x="219.5" y="4" textLength="67.5" lengthAdjust="spacingAndGlyphs">TTHEMETOPIC</text>
<use xlink:href="#ic" x="289" y="5.3"/><use xlink:href="#plus" x="304.3" y="0"/>
<rect class="ab" x="212" y="24" width="281.3" height="48" rx="6"/><use xlink:href="#notch" y="24"/>
<text class="at" x="214.5" y="37.6"><tspan x="214.5">This element applies to both theme and topic. Theme is</tspan><tspan x="214.5" dy="14">the central idea in a text stated either directly or</tspan><tspan x="214.5" dy="14">indirectly;...</tspan></text>
</g>

<g id="node-ttonestyle" transform="translate(0,4461.7)">
<rect class="ns" x="215" y="-7" width="82" height="20" rx="8"/><rect class="nb" x="212" y="-10" width="82" height="20" rx="8"/>
<text class="nt" x="219.5" y="4" textLength="65.5" lengthAdjust="spacingAndGlyphs">TTONESTYLE</text>
<use xlink:href="#ic" x="287" y="5.3"/><use xlink:href="#plus" x="302.3" y="0"/>
<rect class="ab" x="212" y="24" width="279" height="48" rx="6"/><use xlink:href="#notch" y="24"/>
<text class="at" x="214.5" y="37.6"><tspan x="214.5">This element applies to the "characteristic manner of</tspan><tspan x="214.5" dy="14">expression; how a particular writer says things; the</tspan><tspan x="214.5" dy="14">reflection...</tspan></text>
</g>

<g id="node-tvoicenarration" transform="translate(0,4555.7)">
<rect class="ns" x="215" y="-7" width="113" height="20" rx="8"/><rect class="nb" x="212" y="-10" width="113" height="20" rx="8"/>
<text class="nt" x="219.5" y="4" textLength="96.5" lengthAdjust="spacingAndGlyphs">TVOICENARRATION</text>
<use xlink:href="#ic" x="318" y="5.3"/><use xlink:href="#plus" x="333.3" y="0"/>
<rect class="ab" x="212" y="24" width="310.3" height="34.3" rx="6"/><use xlink:href="#notch" y="24"/>
<text class="at" x="214.5" y="37.6"><tspan x="214.5">This element discusses how a story gets told and not what order</tspan><tspan x="214.5" dy="14">the story is told in. Addresses characteristics of the...</tspan></text>
</g>
</svg>
